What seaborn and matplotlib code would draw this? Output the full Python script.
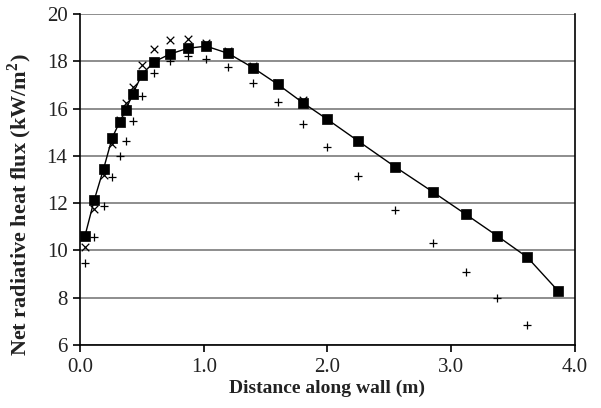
import matplotlib
matplotlib.use("Agg")
import matplotlib.pyplot as plt
import seaborn as sns
import pandas as pd

# Measured net radiative heat flux along the wall (kW/m^2)
distance = [0.04, 0.115, 0.19, 0.26, 0.32, 0.37, 0.425, 0.5, 0.6, 0.725, 0.87,
            1.02, 1.2, 1.4, 1.6, 1.8, 2.0, 2.25, 2.545, 2.85, 3.12, 3.37, 3.615, 3.865]
flux_square = [10.61, 12.13, 13.44, 14.76, 15.43, 15.95, 16.6, 17.44, 17.98, 18.3,
               18.55, 18.64, 18.33, 17.72, 17.02, 16.25, 15.54, 14.62, 13.54, 12.48,
               11.52, 10.62, 9.71, 8.28]
flux_cross = [10.13, 11.74, 13.17, 14.52, 15.5, 16.22, 16.92, 17.84, 18.51, 18.9,
              18.95, 18.78, 18.43, 17.8, 17.1, 16.35]
flux_plus = [9.48, 10.58, 11.9, 13.09, 14.0, 14.64, 15.49, 16.54, 17.49, 18.01,
             18.22, 18.1, 17.75, 17.09, 16.26, 15.33, 14.39, 13.15, 11.71, 10.33,
             9.09, 7.97, 6.83]

x_ticks = [0.0, 1.0, 2.0, 3.0, 4.0]
x_tick_labels = ["0.0", "1.0", "2.0", "3.0", "4.0"]
y_ticks = [6, 8, 10, 12, 14, 16, 18, 20]

df_sq = pd.DataFrame({"d": distance, "q": flux_square})
df_x = pd.DataFrame({"d": distance[:len(flux_cross)], "q": flux_cross})
df_p = pd.DataFrame({"d": distance[:len(flux_plus)], "q": flux_plus})

sns.set_theme(style="white")
plt.rcParams["font.family"] = ["Liberation Serif", "DejaVu Serif"]
plt.rcParams["mathtext.fontset"] = "custom"
plt.rcParams["mathtext.rm"] = "Liberation Serif"
plt.rcParams["mathtext.bf"] = "Liberation Serif:bold"

fig = plt.figure(figsize=(6.01, 4.08), dpi=100)
ax = fig.add_axes([0.1331, 0.1544, 0.8236, 0.8113])

for y in y_ticks:
    ax.axhline(y, color="#7a7a7a", lw=1.2, zorder=0)

sns.scatterplot(data=df_p, x="d", y="q", marker="+", s=30, color="black",
                linewidth=0.9, ax=ax, zorder=2)
sns.scatterplot(data=df_x, x="d", y="q", marker="x", s=30, color="black",
                linewidth=0.9, ax=ax, zorder=3)
sns.lineplot(data=df_sq, x="d", y="q", color="black", lw=1.0, ax=ax,
             sort=False, zorder=4)
sns.scatterplot(data=df_sq, x="d", y="q", marker="s", s=45, color="black",
                edgecolor="black", linewidth=0.5, ax=ax, zorder=5)

ax.set_xlim(0, 4.0)
ax.set_ylim(6, 20)
ax.set_xticks(x_ticks)
ax.set_xticklabels(x_tick_labels)
ax.set_yticks(y_ticks)
ax.tick_params(axis="both", direction="out", length=5, width=1.2,
               color="black", labelsize=15, pad=4, labelcolor="#222222")
ax.tick_params(axis="x", bottom=True)
ax.tick_params(axis="y", left=True)

for side in ["left", "bottom", "right", "top"]:
    ax.spines[side].set_color("black")
    ax.spines[side].set_linewidth(1.2)
ax.spines["top"].set_visible(False)

ax.set_xlabel("Distance along wall (m)", fontsize=14, fontweight="bold",
              color="#222222", labelpad=2)
ax.set_ylabel(r"Net radiative heat flux (kW/m$^{\mathbf{2}}$)", fontsize=16,
              fontweight="bold", color="#222222")
ax.yaxis.set_label_coords(-0.093, 0.4245)

fig.savefig("out.png", dpi=100)
